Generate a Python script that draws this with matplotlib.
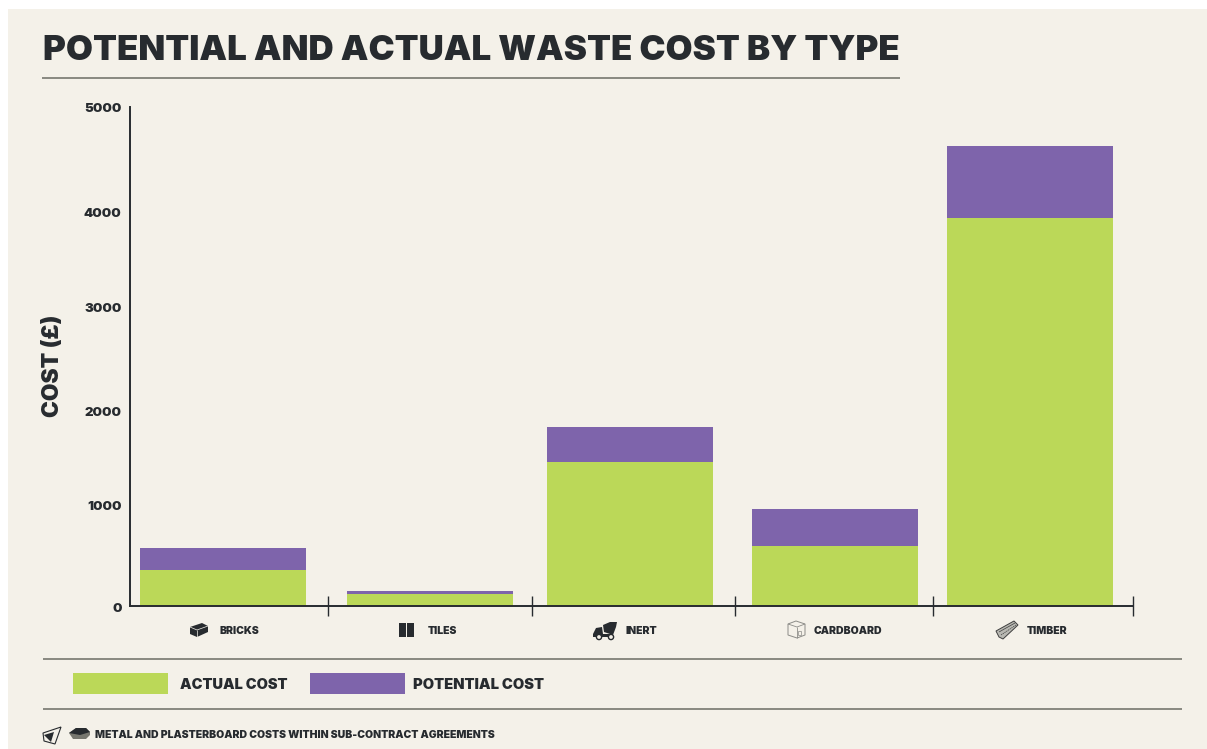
import matplotlib
matplotlib.use("Agg")
import matplotlib.pyplot as plt
from matplotlib.patches import Circle, Polygon, Rectangle
from matplotlib.transforms import ScaledTranslation

# values
categories = ["BRICKS", "TILES", "INERT", "CARDBOARD", "TIMBER"]
actual_cost = [360, 120, 1445, 600, 3890]
potential_cost = [220, 30, 350, 370, 720]
y_ticks = [0, 1000, 2000, 3000, 4000, 5000]

GREEN = "#BBD858"
PURPLE = "#7E64AB"
CREAM = "#F4F1E9"
DARK = "#272B2F"
RULE = "#77776F"

# layout in reference pixels
bar_left = [140, 347, 547, 752, 947]
bar_width = 166
separators = [328, 532, 735, 933, 1133]
label_x = [220, 428, 626, 814, 1027]
label_y = [630.5, 630.5, 630.5, 630.5, 631.5]
# tick labels are not quite on their values in the source (pixels down)
tick_label_shift = [1, -1, 5, 1, 6, 1]

plt.rcParams["font.family"] = ["Inter", "DejaVu Sans"]
plt.rcParams["font.weight"] = 900
plt.rcParams["lines.solid_capstyle"] = "butt"

W, H = 1207, 749
fig = plt.figure(figsize=(W / 100, H / 100), dpi=100, facecolor="white")

# page layer, x and y are pixels of the picture
page = fig.add_axes([0, 0, 1, 1], zorder=0)
page.set_xlim(0, W)
page.set_ylim(H, 0)
page.axis("off")
page.add_patch(Rectangle((8, 9), W - 8, H - 9, color=CREAM, lw=0))


def poly(points, face=DARK, edge="none", lw=0.0):
    page.add_patch(Polygon(points, closed=True, facecolor=face, edgecolor=edge, linewidth=lw))


def brick_icon():
    poly([(190, 627), (202, 623), (208, 626), (208, 632), (197, 637), (190, 634)])
    page.plot([190, 197, 208], [627, 630, 626], color=CREAM, lw=0.5)
    page.plot([197, 197], [630, 637], color=CREAM, lw=0.5)


def tile_icon():
    page.add_patch(Rectangle((399, 623), 7, 14, color=DARK, lw=0))
    page.add_patch(Rectangle((407, 623), 7, 14, color=DARK, lw=0))


def truck_icon():
    poly([(603, 625), (610, 622), (617, 622), (616, 627), (613, 635), (604, 632)])
    poly([(593, 634), (596, 628), (602, 627), (603, 634), (613, 634), (613, 637), (593, 637)])
    for cx in (599, 611):
        page.add_patch(Circle((cx, 637), 2.6, facecolor=CREAM, edgecolor=DARK, lw=1.0, zorder=3))


def box_icon():
    c = "#8C8C88"
    poly([(788, 624), (796, 621), (805, 624), (805, 635), (797, 638), (788, 635)], face="none", edge=c, lw=0.7)
    page.plot([788, 797, 805], [624, 627, 624], color=c, lw=0.6)
    page.plot([797, 797], [627, 638], color=c, lw=0.6)
    page.add_patch(Rectangle((798, 631), 3, 4, facecolor="none", edgecolor=c, lw=0.5))


def timber_icon():
    poly([(996, 631), (1014, 621), (1018, 625), (1003, 639), (999, 637)], face="#B8B8B2", edge="#3E3E3E", lw=0.7)
    page.plot([999, 1015], [632, 623], color="#3E3E3E", lw=0.5)
    page.plot([1001, 1016], [635, 625], color="#3E3E3E", lw=0.5, linestyle=(0, (2, 1)))


def sheet_icons():
    poly([(43, 733), (61, 727), (55, 744), (44, 741)], face=CREAM, edge=DARK, lw=0.8)
    poly([(44, 735), (54, 732), (51, 742), (47, 738)])
    poly([(69, 733), (76, 728), (86, 728), (90, 732), (90, 735), (86, 739), (73, 739)], face="#77776F")
    poly([(69, 733), (76, 728), (86, 728), (90, 732), (80, 735)])


for draw_icon in (brick_icon, tile_icon, truck_icon, box_icon, timber_icon, sheet_icons):
    draw_icon()

# title and rules
page.text(43, 51.5, "POTENTIAL AND ACTUAL WASTE COST BY TYPE", fontsize=25.1,
          color=DARK, va="center", ha="left")
page.plot([42, 900], [78, 78], color=RULE, lw=1.2)
page.plot([43, 1182], [659, 659], color=RULE, lw=1.2)
page.plot([43, 1182], [709, 709], color=RULE, lw=1.2)

# y axis title
page.text(52.5, 366, "COST (£)", fontsize=16.4, color=DARK, rotation=90, va="center", ha="center")

# category labels
for name, x, y in zip(categories, label_x, label_y):
    page.text(x, y, name, fontsize=7.5, color=DARK, va="center", ha="left")

# legend
page.add_patch(Rectangle((73, 673), 95, 21, color=GREEN, lw=0))
page.add_patch(Rectangle((310, 673), 95, 21, color=PURPLE, lw=0))
page.text(180, 685, "ACTUAL COST", fontsize=10.5, color=DARK, va="center", ha="left")
page.text(413, 685, "POTENTIAL COST", fontsize=10.6, color=DARK, va="center", ha="left")

# footnote
page.text(95, 735, "METAL AND PLASTERBOARD COSTS WITHIN SUB-CONTRACT AGREEMENTS",
          fontsize=7.5, color=DARK, va="center", ha="left")

# main chart, x data are picture pixels so the uneven spacing stays as in the source
ax = fig.add_axes([130 / W, 1 - 606 / H, (1133 - 130) / W, (606 - 107) / H], zorder=1)
ax.patch.set_alpha(0)
ax.set_xlim(130, 1133)
ax.set_ylim(0, 5000)

centers = [x + bar_width / 2 for x in bar_left]
ax.bar(centers, actual_cost, width=bar_width, color=GREEN, linewidth=0, label="ACTUAL COST")
ax.bar(centers, potential_cost, width=bar_width, bottom=actual_cost, color=PURPLE,
       linewidth=0, label="POTENTIAL COST")

for side in ("top", "right"):
    ax.spines[side].set_visible(False)
for side in ("left", "bottom"):
    ax.spines[side].set_color(DARK)
    ax.spines[side].set_linewidth(1.4)

ax.set_xticks(separators)
ax.set_xticklabels([])
ax.tick_params(axis="x", direction="inout", length=14, width=1.0, color=DARK)
ax.set_yticks(y_ticks)
ax.set_yticklabels([str(v) for v in y_ticks], fontsize=9.5, color=DARK)
ax.tick_params(axis="y", length=0, pad=6)

for lab, shift in zip(ax.get_yticklabels(), tick_label_shift):
    lab.set_transform(lab.get_transform() + ScaledTranslation(0, -shift / 100, fig.dpi_scale_trans))

fig.savefig("out.png", dpi=100)
